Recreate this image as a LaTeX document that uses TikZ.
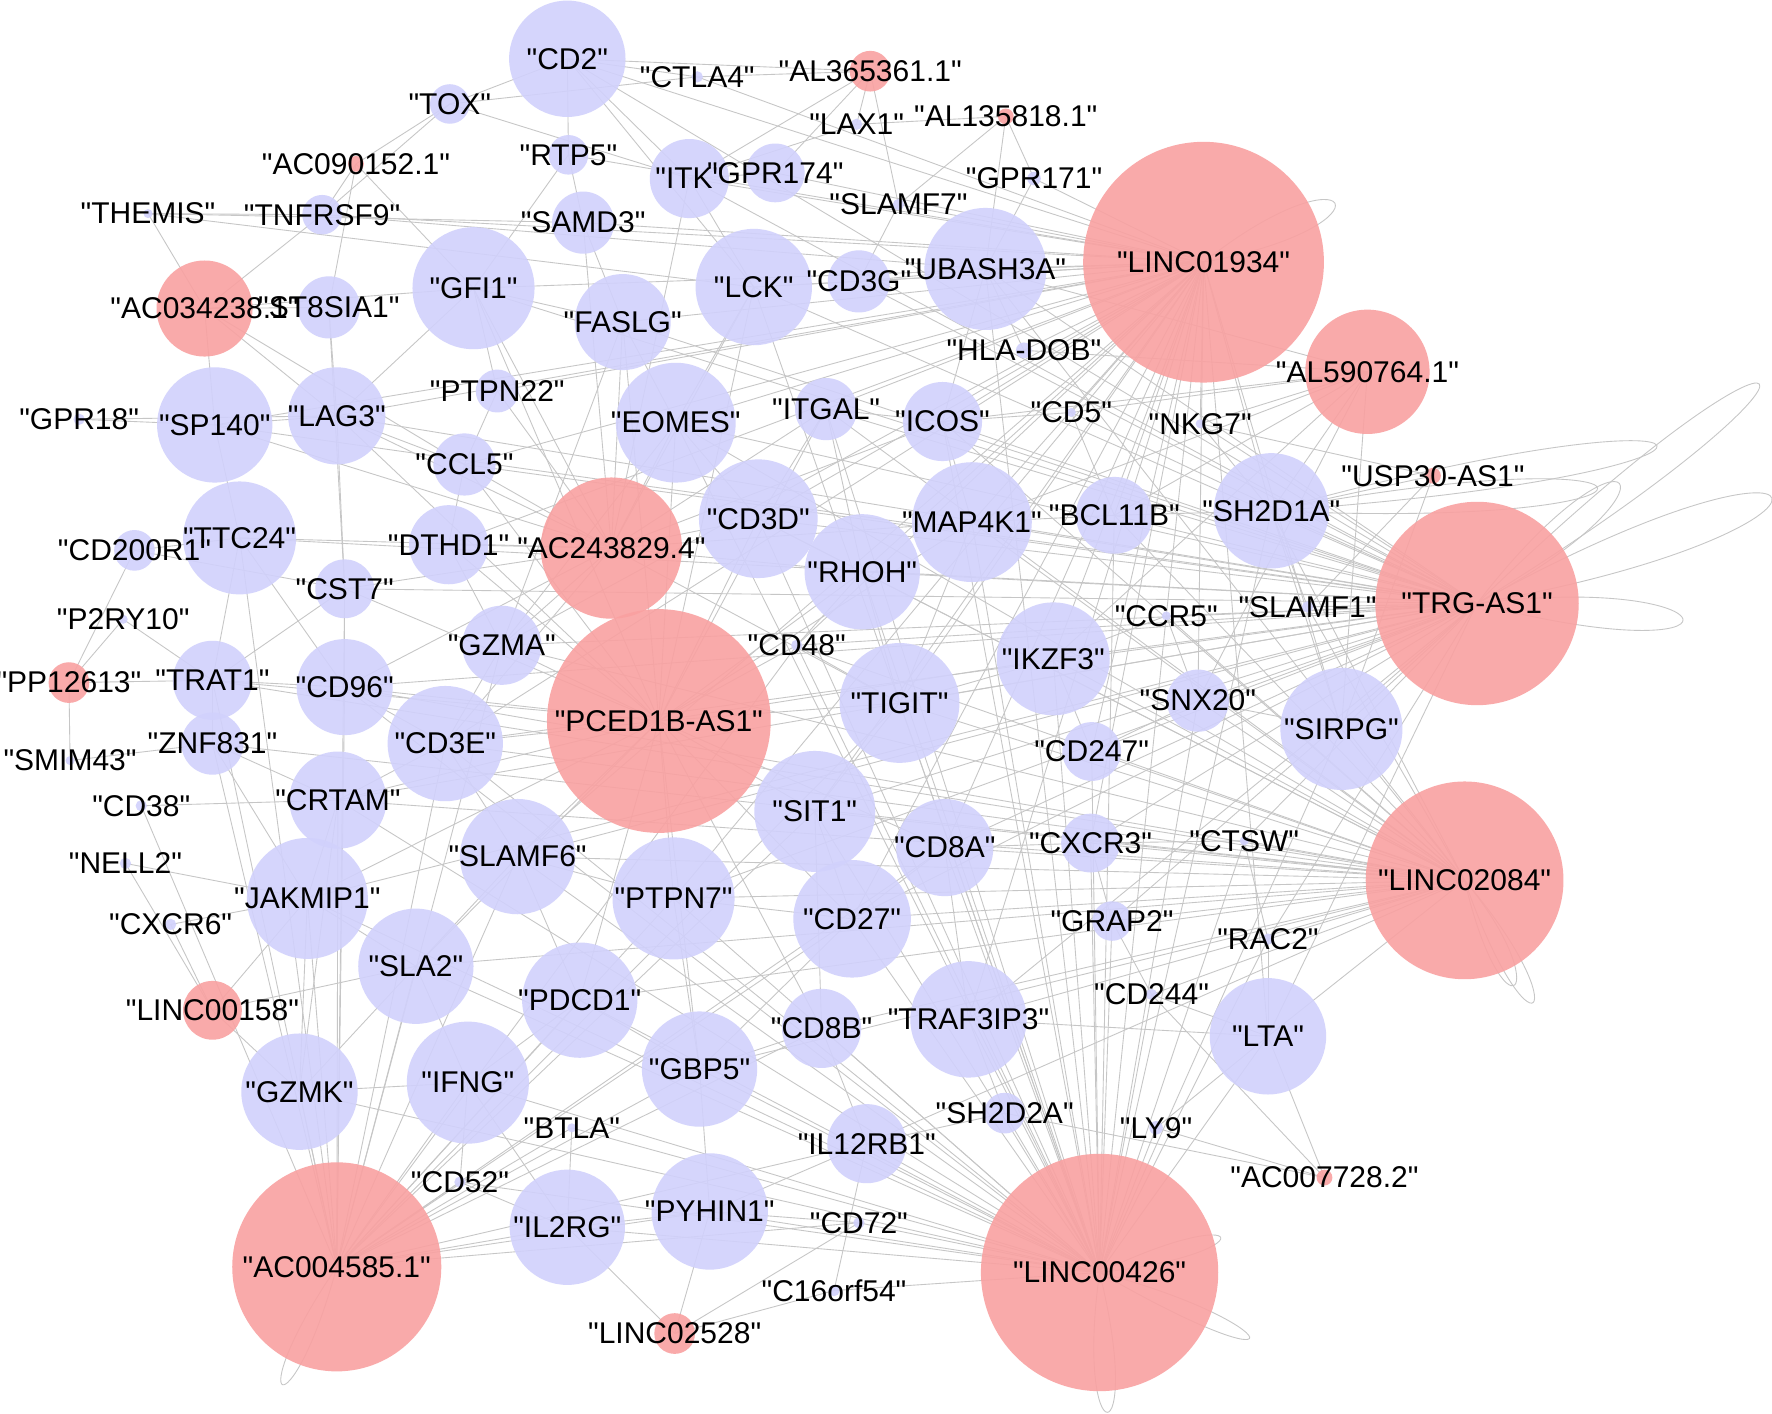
\documentclass[tikz,border=0pt]{standalone}
\usepackage{fontspec}
\setmainfont{Liberation Sans}
\newfontfamily\labfont{Liberation Sans}
\pgfdeclarelayer{bg}
\pgfdeclarelayer{fg}
\pgfsetlayers{bg,main,fg}
\definecolor{nblue}{RGB}{209,209,252}
\definecolor{nred}{RGB}{249,161,161}
\definecolor{edgegray}{RGB}{198,198,198}
\begin{document}
\begin{tikzpicture}[x=0.01cm,y=-0.01cm,
  bnode/.style={circle,fill=nblue,fill opacity=0.9,draw=none,inner sep=0pt},
  rnode/.style={circle,fill=nred,fill opacity=0.9,draw=none,inner sep=0pt},
  lab/.style={inner sep=0pt,font=\labfont\fontsize{7.55pt}{8pt}\selectfont,text=black},
  edge/.style={draw=edgegray,line width=0.22pt}]
\begin{pgfonlayer}{bg}
\fill[white] (0,0) rectangle (1568,1251);
\end{pgfonlayer}
\useasboundingbox (0,0) rectangle (1568,1251);
% blue nodes
\foreach \n/\x/\y/\d/\t in {
CD2/502/52/103/CD2, TOX/398/92/35/TOX, RTP5/503/137/35/RTP5, ITK/610/158/70/ITK,
GPR174/686/153/52/GPR174, TNFRSF9/285/190/35/TNFRSF9, SAMD3/516/197/55/SAMD3,
GFI1/419/255/108/GFI1, LCK/667/254/103/LCK, CD3G/760/249/55/CD3G,
UBASH3A/872/238/108/UBASH3A, FASLG/551/285/85/FASLG, ST8SIA1/291/272/55/ST8SIA1,
SP140/190/376/102/SP140, LAG3/298/368/86/LAG3, PTPN22/440/346/38/PTPN22,
EOMES/598/374/106/EOMES, ITGAL/731/362/55/ITGAL, ICOS/834/373/70/ICOS,
CCL5/411/411/55/CCL5, CD200R1/119/487/36/CD200R1, TTC24/212/476/100/TTC24,
DTHD1/397/482/70/DTHD1, CD3D/671/459/105/CD3D, RHOH/763/506/102/RHOH,
MAP4K1/860/462/106/MAP4K1, BCL11B/986/456/68/BCL11B, SH2D1A/1125/452/102/SH2D1A,
CST7/305/521/52/CST7, GZMA/444/571/70/GZMA, IKZF3/932/583/100/IKZF3,
TRAT1/188/602/70/TRAT1, CD96/305/608/85/CD96, TIGIT/796/622/106/TIGIT,
SNX20/1060/620/55/SNX20, SIRPG/1187/645/108/SIRPG, ZNF831/188/658/55/ZNF831,
CD3E/394/658/102/CD3E, CD247/966/665/52/CD247, CRTAM/299/708/86/CRTAM,
SIT1/721/718/107/SIT1, CD8A/836/750/86/CD8A, CXCR3/965/746/52/CXCR3,
SLAMF6/458/758/102/SLAMF6, JAKMIP1/272/795/107/JAKMIP1, PTPN7/596/795/108/PTPN7,
CD27/754/813/104/CD27, GRAP2/984/815/35/GRAP2, SLA2/368/855/102/SLA2,
PDCD1/513/885/102/PDCD1, CD8B/727/910/70/CD8B, TRAF3IP3/857/902/103/TRAF3IP3,
LTA/1122/917/103/LTA, GZMK/265/966/103/GZMK, IFNG/414/958/108/IFNG,
GBP5/619/946/102/GBP5, SH2D2A/889/985/36/SH2D2A, IL12RB1/767/1012/70/IL12RB1,
IL2RG/502/1086/102/IL2RG, PYHIN1/628/1072/103/PYHIN1, HLADOB/906/310/14/HLA-DOB,
CTLA4/617/68/10/CTLA4, LAX1/758/110/10/LAX1, GPR171/915/158/12/GPR171,
SLAMF7/795/181/10/SLAMF7, THEMIS/131/189/8/THEMIS, CD5/948/365/8/CD5,
NKG7/1062/375/8/NKG7, GPR18/70/371/10/GPR18, P2RY10/109/548/8/P2RY10,
SLAMF1/1157/537/10/SLAMF1, CCR5/1032/545/8/CCR5, CD48/705/571/10/CD48,
SMIM43/62/673/8/SMIM43, CD38/125/713/10/CD38, CTSW/1101/744/8/CTSW,
NELL2/111/764/10/NELL2, CXCR6/151/818/10/CXCR6, RAC2/1122/831/10/RAC2,
CD244/1019/880/10/CD244, BTLA/506/998/8/BTLA, LY9/1023/998/12/LY9,
CD52/407/1046/10/CD52, CD72/760/1082/10/CD72, C16orf54/738/1142/10/C16orf54}
{
  \node[bnode,minimum size=\d*0.01cm] (\n) at (\x,\y) {};
  \begin{pgfonlayer}{fg}
  \node[lab] (\n-l) at (\x,\y) {"\t"};
  \end{pgfonlayer}
}
% red nodes
\foreach \n/\x/\y/\d/\t in {
AL365361/770/63/36/AL365361.1, AL135818/890/103/14/AL135818.1,
AC090152/315/145/14/AC090152.1, LINC01934/1065/232/213/LINC01934,
AC034238/181/273/85/AC034238.1, AL590764/1210/329/110/AL590764.1,
USP30AS1/1268/421/14/USP30-AS1, AC243829/541/485/125/AC243829.4,
TRGAS1/1307/534/180/TRG-AS1, PCED1BAS1/583/638/198/PCED1B-AS1,
PP12613/61/604/36/PP12613, LINC02084/1296/779/175/LINC02084,
LINC00158/188/894/52/LINC00158, AC007728/1172/1042/14/AC007728.2,
AC004585/298/1121/185/AC004585.1, LINC00426/973/1126/210/LINC00426,
LINC02528/597/1180/36/LINC02528}
{
  \node[rnode,minimum size=\d*0.01cm] (\n) at (\x,\y) {};
  \begin{pgfonlayer}{fg}
  \node[lab] (\n-l) at (\x,\y) {"\t"};
  \end{pgfonlayer}
}
\begin{pgfonlayer}{bg}
% hub edges
\foreach \h/\ts in {
LINC01934/{CD2,CTLA4,ITK,GPR174,RTP5,SAMD3,LCK,CD3G,UBASH3A,FASLG,GFI1,TNFRSF9,EOMES,ITGAL,ICOS,CD3D,RHOH,MAP4K1,BCL11B,SH2D1A,IKZF3,TIGIT,SIT1,CD8A,CD27,CD247,CXCR3,SNX20,SIRPG,SLAMF7,GPR171,HLADOB,CD5,NKG7,CCR5,LAG3,SP140,PTPN22,CCL5,CD3E,SLAMF6,PTPN7,TRAF3IP3,LTA,CD48,DTHD1,GZMA},
TRGAS1/{CD2,ITK,LCK,CD3G,UBASH3A,EOMES,ITGAL,ICOS,CD3D,RHOH,MAP4K1,BCL11B,SH2D1A,IKZF3,TIGIT,SIT1,CD8A,CD27,CD247,CXCR3,SNX20,SIRPG,CD5,NKG7,CCR5,SLAMF1,CTSW,GRAP2,RAC2,TRAF3IP3,PTPN7,SLAMF6,CD3E,CD96,CD48,GZMA,CCL5,LAG3,TTC24,SP140,FASLG,GFI1,CRTAM,JAKMIP1,CST7,LTA},
LINC02084/{SH2D1A,BCL11B,MAP4K1,RHOH,CD3D,TIGIT,IKZF3,SIT1,CD8A,CD27,CXCR3,CD247,SNX20,SIRPG,CTSW,GRAP2,RAC2,CD244,TRAF3IP3,LTA,CD8B,PDCD1,PTPN7,SLAMF6,CD3E,CD96,TRAT1,CRTAM,SLA2,GBP5,IL12RB1,ICOS,ITGAL,EOMES,CCR5,SLAMF1,CD48,GZMA,ZNF831,UBASH3A},
LINC00426/{CD3D,RHOH,MAP4K1,TIGIT,SIT1,CD8A,CD27,CXCR3,CD247,IKZF3,BCL11B,SNX20,GRAP2,CD244,TRAF3IP3,CD8B,IL12RB1,SH2D2A,LY9,LTA,PTPN7,PDCD1,GBP5,PYHIN1,IL2RG,IFNG,SLA2,SLAMF6,CD3E,CD96,CRTAM,JAKMIP1,GZMK,CD72,C16orf54,CD52,BTLA,ITGAL,ICOS,EOMES,LCK,UBASH3A,CD48,CCR5,RAC2,CTSW,SIRPG,SH2D1A},
PCED1BAS1/{EOMES,CD3D,FASLG,GZMA,CD96,CD3E,SLAMF6,PTPN7,SIT1,TIGIT,RHOH,CD48,DTHD1,CCL5,LAG3,CST7,TRAT1,CRTAM,JAKMIP1,SLA2,PDCD1,GBP5,CD27,CD8A,ITGAL,LCK,GFI1,IKZF3,MAP4K1,CD8B},
AC243829/{GFI1,FASLG,EOMES,LCK,ITK,CD3D,RHOH,DTHD1,CCL5,PTPN22,LAG3,SP140,CST7,GZMA,CD96,CD3E,TIGIT,ICOS,ITGAL,MAP4K1,SAMD3,TTC24},
AC004585/{GZMK,IFNG,SLA2,JAKMIP1,CRTAM,SLAMF6,PDCD1,GBP5,PTPN7,IL2RG,PYHIN1,CD52,BTLA,CD3E,CD96,TRAT1,ZNF831,SIT1,CD27,CD8B,IL12RB1,CD72,TIGIT,CD8A,TTC24,CST7,GZMA,CD48,CD38},
AL590764/{UBASH3A,SH2D1A,MAP4K1,BCL11B,NKG7,CD5,ICOS,HLADOB,SNX20,SIRPG,IKZF3},
AL365361/{CD2,ITK,LAX1,GPR174,SLAMF7,CTLA4},
AL135818/{GPR171,UBASH3A,LAX1,SLAMF7},
AC090152/{TOX,GFI1,TNFRSF9,ST8SIA1},
AC034238/{TNFRSF9,GFI1,ST8SIA1,SP140,LAG3,THEMIS,CCL5},
USP30AS1/{SH2D1A,SLAMF1,SIRPG,NKG7},
PP12613/{SMIM43,P2RY10,TRAT1,CD200R1},
LINC00158/{GZMK,JAKMIP1,CXCR6,SLA2,NELL2},
AC007728/{LY9,LTA,SH2D2A,CD244},
LINC02528/{PYHIN1,IL2RG,C16orf54,CD72}}
{
  \foreach \t in \ts {\draw[edge] (\h.center) -- (\t.center);}
}
% other edges
\foreach \a/\b in {CD2/TOX,CD2/RTP5,CD2/ITK,CD2/LCK,CD2/CTLA4,TOX/TNFRSF9,THEMIS/TNFRSF9,THEMIS/SAMD3,
RTP5/SAMD3,RTP5/GFI1,ITK/LCK,ITK/GPR174,LCK/CD3G,LCK/EOMES,GFI1/LAG3,GFI1/PTPN22,GFI1/FASLG,
SP140/LAG3,SP140/TTC24,SP140/GPR18,TTC24/CD200R1,TTC24/TRAT1,LAG3/CCL5,LAG3/CST7,CCL5/DTHD1,
DTHD1/GZMA,CST7/CD96,CD96/TRAT1,TRAT1/ZNF831,ZNF831/CRTAM,CRTAM/CD3E,CRTAM/JAKMIP1,CD38/CRTAM,
NELL2/JAKMIP1,CXCR6/JAKMIP1,JAKMIP1/SLA2,SLA2/IFNG,SLA2/SLAMF6,IFNG/GZMK,GZMK/JAKMIP1,IFNG/PDCD1,
PDCD1/GBP5,GBP5/PYHIN1,PYHIN1/IL2RG,IL2RG/BTLA,GBP5/CD8B,CD8B/IL12RB1,IL12RB1/SH2D2A,
SH2D2A/TRAF3IP3,TRAF3IP3/CD8A,CD8A/CD27,CD27/SIT1,SIT1/TIGIT,TIGIT/IKZF3,IKZF3/CD247,CD247/SNX20,
SNX20/SIRPG,SIRPG/SH2D1A,SH2D1A/BCL11B,BCL11B/MAP4K1,MAP4K1/ICOS,ICOS/ITGAL,ITGAL/CD3D,CD3D/RHOH,
RHOH/TIGIT,CD3D/EOMES,EOMES/FASLG,FASLG/SAMD3,UBASH3A/CD3G,UBASH3A/ICOS,HLADOB/UBASH3A,
CXCR3/GRAP2,GRAP2/CD244,CD244/LTA,LTA/RAC2,RAC2/CTSW,LY9/LTA,CD72/PYHIN1,C16orf54/IL12RB1,
CD52/IL2RG,CD52/IFNG,CD48/TIGIT,CD48/RHOH,P2RY10/TRAT1,SMIM43/ZNF831,GPR18/LAG3,CD200R1/CST7,
TOX/ITK,PTPN22/CCL5,SLAMF6/PTPN7,PTPN7/CD27,CD3E/SLAMF6,CD3E/CD96,GZMA/CD3E,THEMIS/LCK,
TNFRSF9/UBASH3A,TOX/CTLA4,ST8SIA1/LAG3,ST8SIA1/CST7,TTC24/CD96,CST7/TRAT1,ZNF831/JAKMIP1,
SLA2/GZMK,PDCD1/SLAMF6,GBP5/CD27,CD8B/SIT1,TRAF3IP3/LTA,CD8A/CXCR3,CXCR3/CTSW,SNX20/CCR5,
CCR5/IKZF3,SLAMF1/SH2D1A,NKG7/SH2D1A,CD5/ICOS,CD5/BCL11B,GPR171/UBASH3A,SLAMF7/CD3G,LAX1/ITK,
ITGAL/RHOH,MAP4K1/TIGIT,EOMES/GZMA,FASLG/GZMA,PTPN7/GBP5,PYHIN1/IL12RB1,IFNG/IL2RG,GZMK/CRTAM}
{
  \draw[edge] (\a.center) -- (\b.center);
}
% curved loops
\draw[edge] (TRGAS1.center) .. controls (1610,240) and (1670,310) .. (TRGAS1.center);
\draw[edge] (TRGAS1.center) .. controls (1640,350) and (1670,470) .. (TRGAS1.center);
\draw[edge] (TRGAS1.center) .. controls (1540,505) and (1560,600) .. (TRGAS1.center);
\draw[edge] (TRGAS1.center) .. controls (1445,355) and (1505,430) .. (TRGAS1.center);
\draw[edge] (SH2D1A.center) .. controls (1560,330) and (1600,420) .. (SH2D1A.center);
\draw[edge] (SH2D1A.center) .. controls (1500,380) and (1520,470) .. (SH2D1A.center);
\draw[edge] (LINC01934.center) .. controls (1200,125) and (1240,200) .. (LINC01934.center);
\draw[edge] (LINC02084.center) .. controls (1400,900) and (1354,946) .. (LINC02084.center);
\draw[edge] (LINC02084.center) .. controls (1380,880) and (1330,925) .. (LINC02084.center);
\draw[edge] (LINC00426.center) .. controls (1110,1060) and (1122,1110) .. (LINC00426.center);
\draw[edge] (LINC00426.center) .. controls (1140,1170) and (1160,1234) .. (LINC00426.center);
\draw[edge] (LINC00426.center) .. controls (950,1290) and (1014,1292) .. (LINC00426.center);
\draw[edge] (AC004585.center) .. controls (210,1250) and (258,1270) .. (AC004585.center);
\end{pgfonlayer}
\end{tikzpicture}
\end{document}
